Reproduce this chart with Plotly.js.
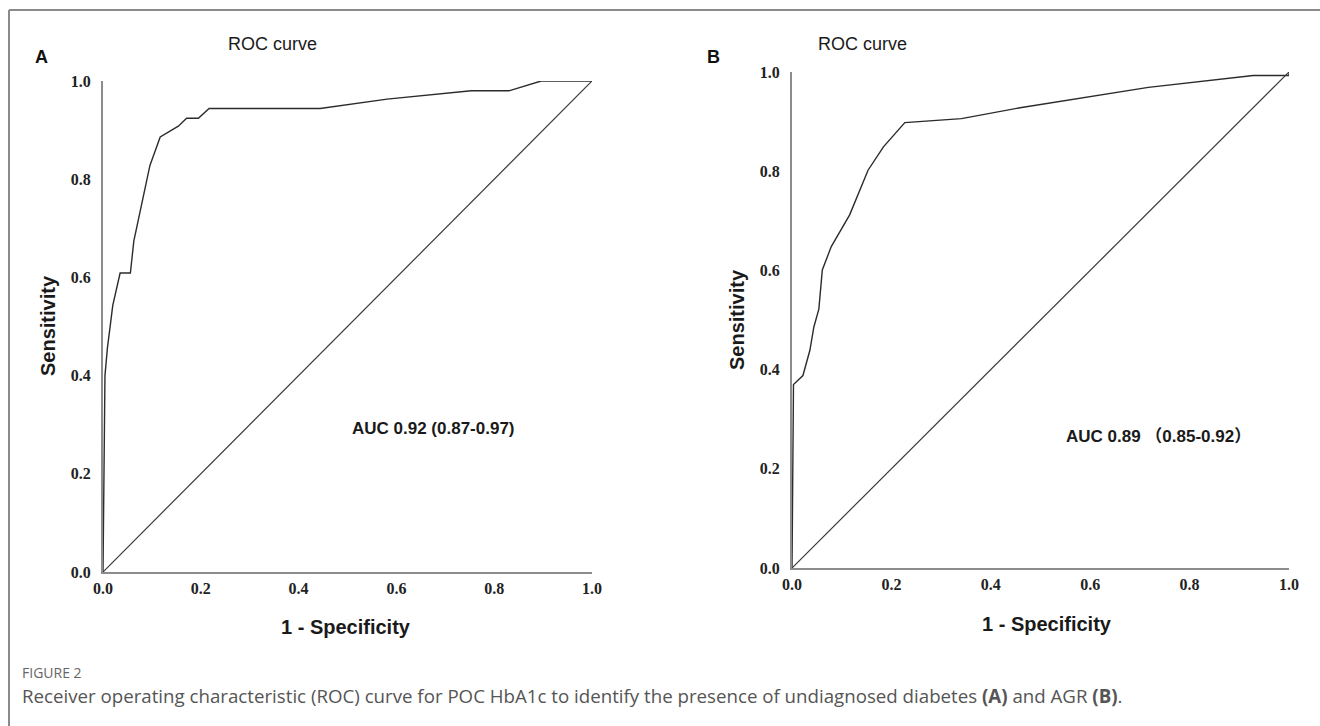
<!DOCTYPE html>
<html><head><meta charset="utf-8">
<script src="https://cdn.plot.ly/plotly-3.0.1.min.js"></script>
<style>html,body{margin:0;padding:0;background:#fff}#chart{width:1320px;height:726px}</style>
</head><body><div id="chart"></div>
<script>
// Panel A: POC HbA1c ROC
const fprA = [0, 0.002, 0.004, 0.009, 0.02, 0.035, 0.056, 0.063, 0.076, 0.086, 0.096, 0.117, 0.137, 0.154, 0.171, 0.195, 0.217, 0.444, 0.581, 0.753, 0.83, 0.896, 1.0];
const tprA = [0, 0.2, 0.40, 0.456, 0.543, 0.609, 0.609, 0.674, 0.733, 0.784, 0.828, 0.886, 0.897, 0.908, 0.924, 0.924, 0.944, 0.944, 0.963, 0.98, 0.98, 1.0, 1.0];
// Panel B: AGR ROC
const fprB = [0, 0.002, 0.003, 0.022, 0.036, 0.044, 0.054, 0.061, 0.079, 0.116, 0.153, 0.184, 0.227, 0.341, 0.459, 0.717, 0.928, 1.0, 1.0];
const tprB = [0, 0.29, 0.37, 0.388, 0.439, 0.486, 0.522, 0.601, 0.648, 0.712, 0.802, 0.849, 0.898, 0.906, 0.928, 0.969, 0.993, 0.993, 1.0];
const refLine = [0, 1];
const tickVals = [0, 0.2, 0.4, 0.6, 0.8, 1.0];
const tickText = ["0.0", "0.2", "0.4", "0.6", "0.8", "1.0"];
const panelLabels = ["A", "B"];
const panelTitle = "ROC curve";
const xTitle = "1 - Specificity";
const yTitle = "Sensitivity";
const aucA = "AUC 0.92 (0.87-0.97)";
const aucB = "AUC 0.89 （0.85-0.92）";
const figLabel = "FIGURE 2";
const caption = "Receiver operating characteristic (ROC) curve for POC HbA1c to identify the presence of undiagnosed diabetes <b>(A)</b> and AGR <b>(B)</b>.";

const curveLine = {color: '#2b2b2b', width: 1.4};
const diagLine = {color: '#3a3a3a', width: 1.2};
const traces = [
  {x: fprA, y: tprA, xaxis: 'x', yaxis: 'y', mode: 'lines', line: curveLine, cliponaxis: false, hoverinfo: 'skip'},
  {x: refLine, y: refLine, xaxis: 'x', yaxis: 'y', mode: 'lines', line: diagLine, cliponaxis: false, hoverinfo: 'skip'},
  {x: fprB, y: tprB, xaxis: 'x2', yaxis: 'y2', mode: 'lines', line: curveLine, cliponaxis: false, hoverinfo: 'skip'},
  {x: refLine, y: refLine, xaxis: 'x2', yaxis: 'y2', mode: 'lines', line: diagLine, cliponaxis: false, hoverinfo: 'skip'}
];

const tickFont = {family: '"Liberation Serif", "DejaVu Serif", serif', size: 16, color: '#222', weight: 700};
function xax(domain, anchor) {
  return {domain: domain, anchor: anchor, range: [0, 1], showgrid: false, zeroline: false,
    showline: true, linecolor: '#8c8c8c', linewidth: 2, ticks: '', tickvals: tickVals, ticktext: tickText,
    tickfont: tickFont, ticklabelstandoff: 1, fixedrange: true};
}
function yax(domain, anchor) {
  return {domain: domain, anchor: anchor, range: [0, 1], showgrid: false, zeroline: false,
    showline: true, linecolor: '#8c8c8c', linewidth: 2, ticks: '', tickvals: tickVals, ticktext: tickText,
    tickfont: tickFont, ticklabelstandoff: 7, fixedrange: true};
}
const W = 1320, H = 726;
const px = v => v / W, py = v => 1 - v / H;
const sans = '"Liberation Sans", Arial, sans-serif';
const capFont = '"Open Sans", "Noto Sans", sans-serif';
function ann(x, y, text, font, extra) {
  return Object.assign({xref: 'paper', yref: 'paper', x: px(x), y: py(y), text: text, showarrow: false,
    xanchor: 'center', yanchor: 'middle', font: font}, extra || {});
}

const layout = {
  width: W, height: H, margin: {l: 0, r: 0, t: 0, b: 0},
  paper_bgcolor: '#fff', plot_bgcolor: '#fff', showlegend: false,
  xaxis: xax([px(103), px(592)], 'y'),
  yaxis: yax([py(572), py(81)], 'x'),
  xaxis2: xax([px(792), px(1289)], 'y2'),
  yaxis2: yax([py(568), py(72)], 'x2'),
  shapes: [
    {type: 'line', xref: 'paper', yref: 'paper', x0: px(9), x1: 1, y0: py(10), y1: py(10), line: {color: '#8a8a8a', width: 2}},
    {type: 'line', xref: 'paper', yref: 'paper', x0: px(9), x1: px(9), y0: py(10), y1: 0, line: {color: '#8a8a8a', width: 2}}
  ],
  annotations: [
    ann(42, 57, panelLabels[0], {family: sans, size: 18, color: '#111', weight: 700}),
    ann(713, 57, panelLabels[1], {family: sans, size: 18, color: '#111', weight: 700}),
    ann(272, 44, panelTitle, {family: sans, size: 18, color: '#1a1a1a'}),
    ann(862, 44, panelTitle, {family: sans, size: 18, color: '#1a1a1a'}),
    ann(346, 627, xTitle, {family: sans, size: 20, color: '#1a1a1a', weight: 700}),
    ann(1047, 624, xTitle, {family: sans, size: 20, color: '#1a1a1a', weight: 700}),
    ann(48, 326, yTitle, {family: sans, size: 20, color: '#1a1a1a', weight: 700}, {textangle: -90}),
    ann(737, 320, yTitle, {family: sans, size: 20, color: '#1a1a1a', weight: 700}, {textangle: -90}),
    ann(350, 428, aucA, {family: sans, size: 17, color: '#1a1a1a', weight: 700}, {xanchor: 'left'}),
    ann(1064, 436, aucB, {family: sans + ', "Noto Sans CJK SC"', size: 17, color: '#1a1a1a', weight: 700}, {xanchor: 'left'}),
    ann(20, 672, figLabel, {family: capFont, size: 14, color: '#666'}, {xanchor: 'left'}),
    ann(20, 695, caption, {family: capFont, size: 18.7, color: '#555'}, {xanchor: 'left'})
  ]
};
Plotly.newPlot('chart', traces, layout, {staticPlot: true, displayModeBar: false});
</script></body></html>
